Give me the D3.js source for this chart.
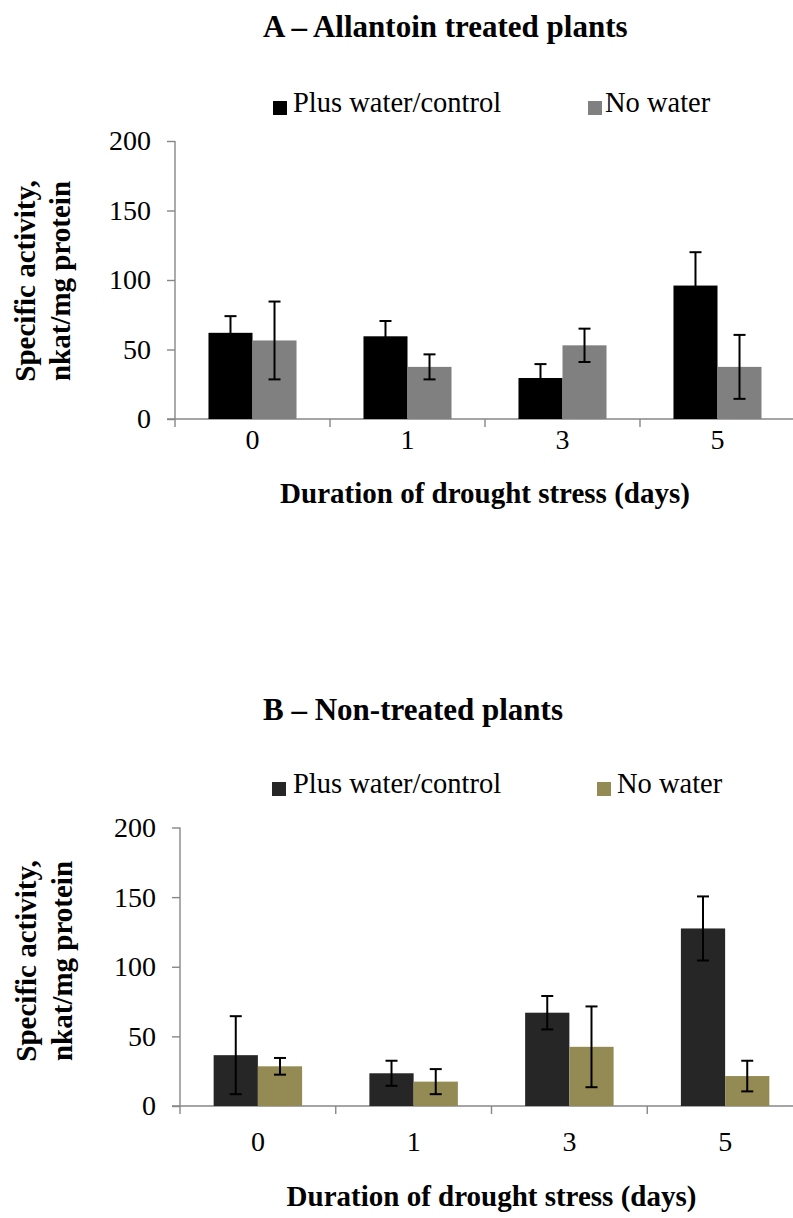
<!DOCTYPE html>
<html><head><meta charset="utf-8">
<script src="https://cdn.jsdelivr.net/npm/d3@7"></script>
<style>
body{margin:0;background:#fff}
svg{display:block}
text{font-family:"Liberation Serif","Times New Roman",serif;fill:#000}
</style>
</head><body><svg id="c" width="793" height="1218"></svg>
<script>
const categories = ["0", "1", "3", "5"];
const seriesNames = ["Plus water/control", "No water"];
const yTicks = [0, 50, 100, 150, 200];

const allantoinControl = [62, 59.5, 29.5, 96];
const allantoinControlErr = [12, 11, 10, 24];
const allantoinNoWater = [56.5, 37.5, 53, 37.5];
const allantoinNoWaterErr = [28, 9, 12, 23];

const nonTreatedControl = [36.5, 23.5, 67, 127.5];
const nonTreatedControlErr = [28, 9, 12, 23];
const nonTreatedNoWater = [28.5, 17.5, 42.5, 21.5];
const nonTreatedNoWaterErr = [6, 9, 29, 11];

const svg = d3.select("#c");
const AXIS = "#878787";

function panel(cfg) {
  const g = svg.append("g");
  const x = d3.scaleBand().domain(categories).range([cfg.x0, cfg.x1]).paddingInner(0.432).paddingOuter(0.216);
  const xs = d3.scaleBand().domain([0, 1]).range([0, x.bandwidth()]);
  const y = d3.scaleLinear().domain([0, 200]).range([cfg.yb, cfg.yt]);

  g.append("text").attr("x", 263).attr("y", cfg.titleY).attr("font-size", 31).attr("font-weight", "bold").text(cfg.title);

  const lg = g.append("g");
  seriesNames.forEach((n, i) => {
    lg.append("rect").attr("x", cfg.legSq[i]).attr("y", cfg.legY - 11).attr("width", 14).attr("height", 14).attr("fill", cfg.colors[i]);
    lg.append("text").attr("x", cfg.legTx[i]).attr("y", cfg.legY).attr("font-size", 28.5).text(n);
  });

  const ya = d3.axisLeft(y).tickValues(yTicks).tickSize(8).tickPadding(16).tickFormat(d3.format("d"));
  const yg = g.append("g").attr("transform", `translate(${cfg.x0},0)`).call(ya);
  yg.select(".domain").attr("stroke", AXIS).attr("stroke-width", 1.4).attr("d", `M0,${cfg.yt}V${cfg.yb}`);
  yg.selectAll(".tick line").attr("stroke", AXIS).attr("stroke-width", 1.4);
  yg.selectAll(".tick text").attr("font-size", 28).attr("font-family", "Liberation Serif").attr("fill", "#000");

  g.append("line").attr("x1", cfg.x0 - 8).attr("x2", 800).attr("y1", cfg.yb).attr("y2", cfg.yb).attr("stroke", AXIS).attr("stroke-width", 1.4);
  const bounds = d3.range(categories.length + 1).map(i => cfg.x0 + i * x.step());
  g.selectAll(null).data(bounds).join("line")
    .attr("x1", d => d).attr("x2", d => d).attr("y1", cfg.yb).attr("y2", cfg.yb + 8)
    .attr("stroke", AXIS).attr("stroke-width", 1.4);
  g.selectAll(null).data(categories).join("text")
    .attr("x", d => x(d) + x.bandwidth() / 2).attr("y", cfg.yb + cfg.labOff)
    .attr("text-anchor", "middle").attr("font-size", 28).text(d => d);

  const series = [cfg.vals[0], cfg.vals[1]];
  const errs = [cfg.errs[0], cfg.errs[1]];
  series.forEach((vals, s) => {
    g.selectAll(null).data(categories).join("rect")
      .attr("x", (d) => x(d) + xs(s)).attr("width", xs.bandwidth())
      .attr("y", (d, i) => y(vals[i])).attr("height", (d, i) => y(0) - y(vals[i]))
      .attr("fill", cfg.colors[s]);
  });
  series.forEach((vals, s) => {
    categories.forEach((c, i) => {
      const cx = x(c) + xs(s) + xs.bandwidth() / 2;
      const hi = y(vals[i] + errs[s][i]);
      const lo = y(Math.max(0, vals[i] - errs[s][i]));
      const eg = g.append("g").attr("stroke", "#000").attr("stroke-width", 2);
      eg.append("line").attr("x1", cx).attr("x2", cx).attr("y1", hi).attr("y2", lo);
      eg.append("line").attr("x1", cx - 6).attr("x2", cx + 6).attr("y1", hi).attr("y2", hi);
      eg.append("line").attr("x1", cx - 6).attr("x2", cx + 6).attr("y1", lo).attr("y2", lo);
    });
  });

  const yc = cfg.ylabY;
  g.append("text").attr("transform", `translate(${cfg.ylabX[0]},${yc}) rotate(-90)`).attr("text-anchor", "middle")
    .attr("font-size", 29).attr("font-weight", "bold").text("Specific activity,");
  g.append("text").attr("transform", `translate(${cfg.ylabX[1]},${yc}) rotate(-90)`).attr("text-anchor", "middle")
    .attr("font-size", 29).attr("font-weight", "bold").text("nkat/mg protein");

  g.append("text").attr("x", (cfg.x0 + cfg.x1) / 2).attr("y", cfg.yb + cfg.titOff).attr("text-anchor", "middle")
    .attr("font-size", 29).attr("font-weight", "bold").text("Duration of drought stress (days)");
}

panel({
  title: "A \u2013 Allantoin treated plants", titleY: 37,
  legY: 112, legSq: [273, 588], legTx: [293, 605],
  x0: 175, x1: 795, yt: 141, yb: 419,
  labOff: 30, titOff: 84,
  colors: ["#000000", "#808080"],
  vals: [allantoinControl, allantoinNoWater], errs: [allantoinControlErr, allantoinNoWaterErr],
  ylabY: 281, ylabX: [35, 70]
});

panel({
  title: "B \u2013 Non-treated plants", titleY: 720,
  legY: 793, legSq: [272, 597], legTx: [293, 617],
  x0: 180, x1: 803, yt: 827.5, yb: 1106,
  labOff: 45, titOff: 100,
  colors: ["#262626", "#948A54"],
  vals: [nonTreatedControl, nonTreatedNoWater], errs: [nonTreatedControlErr, nonTreatedNoWaterErr],
  ylabY: 961, ylabX: [36, 72]
});
</script>
</body></html>
